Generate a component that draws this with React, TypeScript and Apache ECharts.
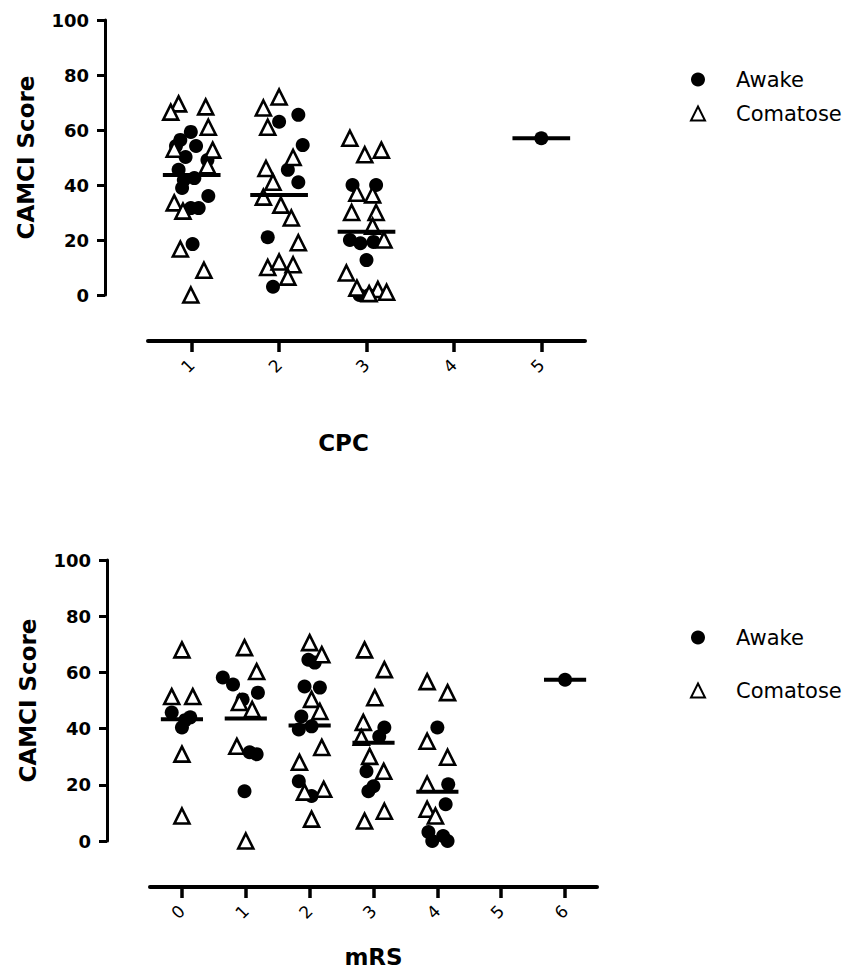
import React, { useEffect, useRef } from "react";
import * as echarts from "echarts";

// ---- Data (x = group value + horizontal jitter, y = CAMCI score) ----
const cpcTicks = [1, 2, 3, 4, 5];
const mrsTicks = [0, 1, 2, 3, 4, 5, 6];
const seriesNames = ["Awake", "Comatose"];

const cpcAwake: [number, number][] = [
  [0.99, 59.3], [0.87, 56.4], [0.82, 54.2], [1.05, 54.2], [0.93, 50.2], [1.18, 49.1],
  [0.85, 45.5], [0.91, 41.8], [1.03, 42.5], [0.89, 38.9], [1.19, 36.0], [0.99, 31.6],
  [1.08, 31.6], [1.01, 18.5],
  [2.0, 63.0], [2.22, 65.5], [2.27, 54.5], [2.1, 45.5], [2.22, 41.0], [1.87, 21.0], [1.93, 3.0],
  [2.84, 40.0], [3.11, 40.0], [2.81, 20.0], [2.93, 18.8], [3.08, 19.3], [3.0, 12.7],
  [2.92, 0.0], [3.03, 0.0],
  [5.0, 57.0],
];
const cpcComatose: [number, number][] = [
  [0.85, 69.5], [1.16, 68.4], [0.76, 66.5], [1.19, 61.0], [0.8, 53.0], [1.24, 52.7],
  [1.18, 47.0], [0.8, 33.5], [0.9, 30.5], [0.87, 16.7], [1.14, 9.0], [0.99, 0.0],
  [1.82, 68.0], [2.0, 72.0], [1.87, 61.0], [2.16, 50.0], [1.85, 46.0], [1.93, 41.0],
  [1.82, 35.6], [2.02, 32.7], [2.14, 28.0], [2.22, 19.0], [1.87, 10.0], [2.0, 12.0],
  [2.16, 11.0], [2.1, 6.5],
  [2.81, 57.0], [2.98, 51.0], [3.17, 52.7], [2.89, 37.0], [3.07, 36.4], [2.83, 30.0],
  [3.11, 30.0], [3.07, 25.0], [3.2, 20.0], [2.77, 8.0], [2.89, 2.5], [3.13, 2.0],
  [3.23, 1.0], [3.03, 0.5],
];
const cpcMeans: [number, number][] = [[1, 43.6], [2, 36.4], [3, 23.0], [5, 57.0]];

const mrsAwake: [number, number][] = [
  [-0.16, 45.7], [0.13, 44.0], [0.0, 40.4], [0.05, 43.0],
  [0.64, 58.2], [0.8, 55.7], [1.19, 52.8], [0.95, 50.4], [1.06, 31.6], [1.17, 30.9], [0.98, 17.7],
  [1.98, 64.5], [2.08, 63.5], [1.92, 55.0], [2.16, 54.6], [1.87, 44.3], [2.03, 40.8],
  [1.83, 39.7], [1.83, 21.3], [2.03, 16.0],
  [3.17, 40.4], [3.09, 37.2], [2.89, 24.8], [3.0, 19.5], [2.92, 17.7],
  [4.0, 40.4], [4.17, 20.2], [4.13, 13.1], [3.86, 3.2], [4.09, 1.8], [3.92, 0.0], [4.16, 0.0],
  [6.0, 57.4],
];
const mrsComatose: [number, number][] = [
  [0.0, 68.0], [-0.16, 51.4], [0.17, 51.4], [0.0, 30.9], [0.0, 8.9],
  [0.98, 68.8], [1.17, 60.3], [0.9, 49.3], [1.1, 46.8], [0.86, 33.7], [1.0, 0.0],
  [2.0, 70.6], [2.19, 66.3], [2.03, 50.4], [2.16, 46.1], [2.19, 33.3], [1.84, 28.0],
  [2.22, 18.4], [1.92, 17.4], [2.03, 7.8],
  [2.86, 68.0], [3.17, 61.0], [3.02, 51.0], [2.84, 42.2], [2.81, 36.9], [2.94, 30.1],
  [3.16, 24.8], [3.17, 10.6], [2.86, 7.1],
  [3.84, 56.7], [4.16, 52.8], [3.84, 35.5], [4.16, 29.8], [3.84, 20.2], [3.84, 11.3], [3.97, 8.9],
];
const mrsMeans: [number, number][] = [[0, 43.3], [1, 43.6], [2, 41.1], [3, 35.0], [4, 17.5], [6, 57.4]];

interface PanelCfg {
  xName: string;
  xMin: number;
  xMax: number;
  ticks: number[];
  awake: [number, number][];
  comatose: [number, number][];
  means: [number, number][];
  grid: { left: number; top: number; width: number; height: number };
  xOffset: number;
  xNameGap: number;
  xNamePad: number[];
  legendTop: number;
  legendGap: number;
}

const font = "DejaVu Sans";

function makeOption(c: PanelCfg): any {
  return {
    animation: false,
    backgroundColor: "#fff",
    grid: { ...c.grid, containLabel: false },
    legend: {
      orient: "vertical",
      left: 685,
      top: c.legendTop,
      itemGap: c.legendGap,
      itemWidth: 14,
      itemHeight: 14,
      data: seriesNames,
      textStyle: { fontFamily: font, fontSize: 21, color: "#000", padding: [0, 0, 0, 26] },
      selectedMode: false,
    },
    xAxis: {
      type: "value",
      min: c.xMin,
      max: c.xMax,
      offset: c.xOffset,
      splitLine: { show: false },
      axisLine: { show: true, onZero: false, lineStyle: { color: "#000", width: 4 } },
      axisTick: { show: true, customValues: c.ticks, length: 11, lineStyle: { color: "#000", width: 3.5 } },
      axisLabel: {
        customValues: c.ticks,
        rotate: 45,
        margin: 21,
        fontFamily: font,
        fontSize: 17,
        color: "#000",
      },
      name: c.xName,
      nameLocation: "middle",
      nameGap: c.xNameGap,
      nameTextStyle: { fontFamily: font, fontSize: 23, fontWeight: "bold", color: "#000", padding: c.xNamePad },
    },
    yAxis: {
      type: "value",
      min: 0,
      max: 100,
      interval: 20,
      offset: 43,
      splitLine: { show: false },
      axisLine: { show: true, onZero: false, lineStyle: { color: "#000", width: 3 } },
      axisTick: { show: true, length: 8, lineStyle: { color: "#000", width: 3 } },
      axisLabel: { margin: 16, fontFamily: font, fontSize: 18, fontWeight: "bold", color: "#000" },
      name: "CAMCI Score",
      nameLocation: "middle",
      nameRotate: 90,
      nameGap: 68,
      nameTextStyle: { fontFamily: font, fontSize: 23, fontWeight: "bold", color: "#000" },
    },
    series: [
      {
        name: "Awake",
        type: "scatter",
        symbol: "circle",
        symbolSize: 14,
        itemStyle: { color: "#000", opacity: 1 },
        data: c.awake,
      },
      {
        name: "Comatose",
        type: "scatter",
        symbol: "triangle",
        symbolSize: 15,
        itemStyle: { color: "#fff", borderColor: "#000", borderWidth: 2.6, opacity: 1 },
        data: c.comatose,
      },
      {
        name: "Mean",
        type: "custom",
        coordinateSystem: "cartesian2d",
        silent: true,
        z: 5,
        data: c.means,
        renderItem: (params: any, api: any) => {
          const x = api.value(0);
          const y = api.value(1);
          const p1 = api.coord([x - 0.33, y]);
          const p2 = api.coord([x + 0.33, y]);
          return {
            type: "line",
            shape: { x1: p1[0], y1: p1[1], x2: p2[0], y2: p2[1] },
            style: { stroke: "#000", lineWidth: 4 },
          };
        },
      },
    ],
  };
}

const topCfg: PanelCfg = {
  xName: "CPC",
  xMin: 0.5,
  xMax: 5.5,
  ticks: cpcTicks,
  awake: cpcAwake,
  comatose: cpcComatose,
  means: cpcMeans,
  grid: { left: 148, top: 20, width: 437, height: 275 },
  xOffset: 46,
  xNameGap: 90,
  xNamePad: [0, 46, 0, 0],
  legendTop: 64,
  legendGap: 13,
};

const bottomCfg: PanelCfg = {
  xName: "mRS",
  xMin: -0.5,
  xMax: 6.5,
  ticks: mrsTicks,
  awake: mrsAwake,
  comatose: mrsComatose,
  means: mrsMeans,
  grid: { left: 150, top: 80, width: 447, height: 282 },
  xOffset: 46,
  xNameGap: 58,
  xNamePad: [0, 0, 0, 0],
  legendTop: 142,
  legendGap: 32,
};

function Panel({ cfg, top, height }: { cfg: PanelCfg; top: number; height: number }) {
  const ref = useRef<HTMLDivElement>(null);
  useEffect(() => {
    if (!ref.current) return;
    const chart = echarts.init(ref.current, undefined, { renderer: "svg" });
    chart.setOption(makeOption(cfg));
    return () => chart.dispose();
  }, [cfg]);
  return (
    <div
      ref={ref}
      style={{ position: "absolute", left: 0, top, width: 855, height }}
    />
  );
}

export default function App() {
  return (
    <div style={{ position: "absolute", left: 0, top: 0, width: 855, height: 973, background: "#fff" }}>
      <Panel cfg={topCfg} top={0} height={480} />
      <Panel cfg={bottomCfg} top={480} height={493} />
    </div>
  );
}
